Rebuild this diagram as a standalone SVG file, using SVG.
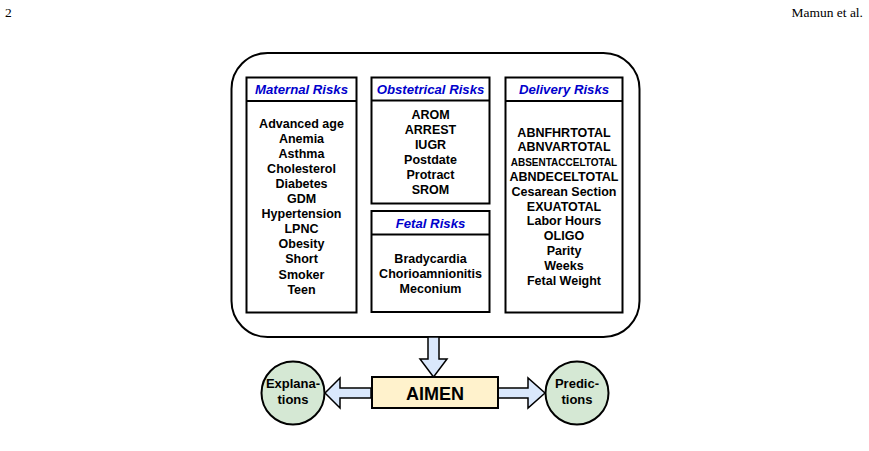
<svg xmlns="http://www.w3.org/2000/svg" width="869" height="451" viewBox="0 0 869 451">
<style>
.box{fill:#fff;stroke:#000;stroke-width:2}
.hd{font-family:"Liberation Sans",Arial,sans-serif;font-weight:bold;font-style:italic;font-size:13.2px;fill:#0000cc;text-anchor:middle}
.it{font-family:"Liberation Sans",Arial,sans-serif;font-weight:bold;font-size:12.5px;fill:#000;text-anchor:middle}
.ct{font-family:"Liberation Sans",Arial,sans-serif;font-weight:bold;font-size:13px;fill:#000;text-anchor:middle}
.arr{fill:#dae8fc;stroke:#000;stroke-width:1.5;stroke-linejoin:miter}
.pg{font-family:"Liberation Serif","Times New Roman",serif;font-size:13.5px;fill:#000}
</style>
<rect width="869" height="451" fill="#fff"/>
<text class="pg" x="5" y="17">2</text>
<text class="pg" x="863" y="17" text-anchor="end">Mamun et al.</text>
<g id="container">
<rect x="231.5" y="53" width="408" height="284" rx="36" ry="36" fill="#fff" stroke="#000" stroke-width="2"/>
</g>
<g id="maternal">
<rect class="box" x="246.5" y="77.5" width="110" height="235"/>
<line x1="246.5" y1="101" x2="356.5" y2="101" stroke="#000" stroke-width="2"/>
<text class="hd" x="301.5" y="93.5">Maternal Risks</text>
<text class="it" x="301.5" y="127.5">Advanced age</text>
<text class="it" x="301.5" y="142.6">Anemia</text>
<text class="it" x="301.5" y="157.7">Asthma</text>
<text class="it" x="301.5" y="172.8">Cholesterol</text>
<text class="it" x="301.5" y="187.9">Diabetes</text>
<text class="it" x="301.5" y="203">GDM</text>
<text class="it" x="301.5" y="218.1">Hypertension</text>
<text class="it" x="301.5" y="233.2">LPNC</text>
<text class="it" x="301.5" y="248.3">Obesity</text>
<text class="it" x="301.5" y="263.4">Short</text>
<text class="it" x="301.5" y="278.5">Smoker</text>
<text class="it" x="301.5" y="293.6">Teen</text>
</g>
<g id="obstetrical">
<rect class="box" x="371.5" y="77.5" width="118" height="126"/>
<line x1="371.5" y1="100.5" x2="489.5" y2="100.5" stroke="#000" stroke-width="2"/>
<text class="hd" x="430.5" y="93.5">Obstetrical Risks</text>
<text class="it" x="430.5" y="118.5">AROM</text>
<text class="it" x="430.5" y="133.5">ARREST</text>
<text class="it" x="430.5" y="148.5">IUGR</text>
<text class="it" x="430.5" y="163.5">Postdate</text>
<text class="it" x="430.5" y="178.5">Protract</text>
<text class="it" x="430.5" y="193.5">SROM</text>
</g>
<g id="fetal">
<rect class="box" x="371.5" y="211" width="118" height="101"/>
<line x1="371.5" y1="234.5" x2="489.5" y2="234.5" stroke="#000" stroke-width="2"/>
<text class="hd" x="430.5" y="227.5">Fetal Risks</text>
<text class="it" x="430.5" y="262.5">Bradycardia</text>
<text class="it" x="430.5" y="277.5">Chorioamnionitis</text>
<text class="it" x="430.5" y="292.5">Meconium</text>
</g>
<g id="delivery">
<rect class="box" x="505.5" y="77.5" width="117" height="235"/>
<line x1="505.5" y1="101" x2="622.5" y2="101" stroke="#000" stroke-width="2"/>
<text class="hd" x="564" y="93.5">Delivery Risks</text>
<text class="it" x="564" y="136.5">ABNFHRTOTAL</text>
<text class="it" x="564" y="151.3">ABNVARTOTAL</text>
<text class="it" x="564" y="165.5" style="font-size:10px">ABSENTACCELTOTAL</text>
<text class="it" x="564" y="180.9">ABNDECELTOTAL</text>
<text class="it" x="564" y="195.7">Cesarean Section</text>
<text class="it" x="564" y="210.5">EXUATOTAL</text>
<text class="it" x="564" y="225.3">Labor Hours</text>
<text class="it" x="564" y="240.1">OLIGO</text>
<text class="it" x="564" y="254.9">Parity</text>
<text class="it" x="564" y="269.7">Weeks</text>
<text class="it" x="564" y="284.5">Fetal Weight</text>
</g>
<g id="connectors">
<polygon class="arr" points="428,337 439,337 439,359 447,359 433.5,377 420,359 428,359"/>
<polygon class="arr" points="371,388 340,388 340,378 325,393 340,408 340,398 371,398"/>
<polygon class="arr" points="498,388 528,388 528,378 545,393 528,408 528,398 498,398"/>
</g>
<g id="aimen">
<rect x="372" y="377" width="126" height="31" fill="#fff2cc" stroke="#000" stroke-width="2"/>
<text x="435" y="399.5" text-anchor="middle" style="font-family:'Liberation Sans',Arial,sans-serif;font-weight:bold;font-size:18px">AIMEN</text>
</g>
<g id="explanations">
<circle cx="293" cy="393" r="31.5" fill="#d5e8d4" stroke="#000" stroke-width="2"/>
<text class="ct" x="293" y="388">Explana-</text>
<text class="ct" x="293" y="404">tions</text>
</g>
<g id="predictions">
<circle cx="577" cy="393" r="31.5" fill="#d5e8d4" stroke="#000" stroke-width="2"/>
<text class="ct" x="577" y="388">Predic-</text>
<text class="ct" x="577" y="404">tions</text>
</g>
</svg>
